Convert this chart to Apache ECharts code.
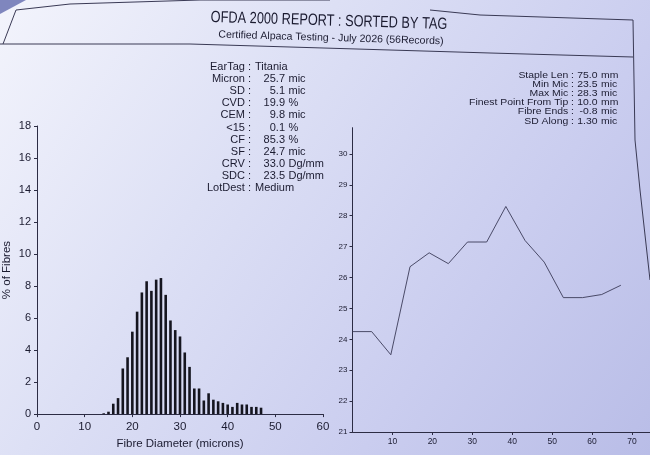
<!DOCTYPE html>
<html><head><meta charset="utf-8">
<script src="https://cdn.jsdelivr.net/npm/echarts@6/dist/echarts.min.js"></script>
<style>html,body{margin:0;padding:0;background:#dcdff5;}#c{width:650px;height:455px;}</style>
</head><body><div id="c"></div>
<script>
// ---- Data ----
const titleText = 'OFDA 2000 REPORT : SORTED BY TAG';
const subtitleText = 'Certified Alpaca Testing - July 2026 (56Records)';

// Histogram: fibre diameter (microns) vs % of fibres
const diameters = [14,15,16,17,18,19,20,21,22,23,24,25,26,27,28,29,30,31,32,33,34,35,36,37,38,39,40,41,42,43,44,45,46,47];
const percents  = [0.05,0.15,0.65,1.0,2.85,3.55,5.15,6.4,7.6,8.3,7.7,8.4,8.5,7.45,5.85,5.25,4.85,3.85,2.95,1.6,1.6,0.85,1.3,0.9,0.8,0.7,0.6,0.45,0.7,0.6,0.6,0.45,0.45,0.4];

// Profile along staple: position (mm) vs micron
const positions = [0,4.8,9.6,14.4,19.2,24,28.8,33.6,38.4,43.2,48,52.8,57.6,62.4,67.2];
const profileMic = [24.25,24.25,23.5,26.35,26.8,26.45,27.15,27.15,28.3,27.2,26.5,25.35,25.35,25.45,25.75];

// Stats blocks
const leftLabels = ['EarTag','Micron','SD','CVD','CEM','<15','CF','SF','CRV','SDC','LotDest'];
const leftValues = ['Titania','25.7','5.1','19.9','9.8','0.1','85.3','24.7','33.0','23.5','Medium'];
const leftUnits  = ['','mic','mic','%','mic','%','%','mic','Dg/mm','Dg/mm',''];

const rightLabels = ['Staple Len','Min Mic','Max Mic','Finest Point From Tip','Fibre Ends','SD Along'];
const rightValues = ['75.0','23.5','28.3','10.0','-0.8','1.30'];
const rightUnits  = ['mm','mic','mic','mm','mic','mic'];

// ---- Styles ----
const FONT = '"Liberation Sans", Arial, sans-serif';
const INK = '#1b1b30';
const AXIS = '#2c2c44';

const graphics = [];
// dark photo corner
graphics.push({type:'polygon', shape:{points:[[0,0],[26,0],[0,14]]}, style:{fill:'#7f86be'}, silent:true});
// header box / page border drawn as plain segments
function addPath(points){
  for (let k = 0; k < points.length - 1; k++) {
    graphics.push({type:'line', silent:true,
      shape:{x1:points[k][0], y1:points[k][1], x2:points[k+1][0], y2:points[k+1][1]},
      style:{stroke:'#3a3a55', lineWidth:1}});
  }
}
addPath([[3,44],[16,10],[70,4],[200,0],[330,0]]);
addPath([[430,10],[480,15],[633,20]]);
addPath([[0,44],[190,44],[490,53],[633,57]]);
addPath([[633,20],[635,140],[640,190],[650,280]]);

// titles
graphics.push({type:'text', x:329, y:21, rotation:-0.03, scaleX:0.85, scaleY:1.08,
  style:{text:titleText, font:'15px '+FONT, fill:INK, align:'center', verticalAlign:'middle'}});
graphics.push({type:'text', x:331, y:38, rotation:-0.03,
  style:{text:subtitleText, font:'10.5px '+FONT, fill:INK, align:'center', verticalAlign:'middle'}});

// left stats
leftLabels.forEach((lab,i)=>{
  const y = 66.7 + i*12.16;
  graphics.push({type:'text', x:251, y:y, style:{text:lab+' :', font:'11px '+FONT, fill:INK, align:'right', verticalAlign:'middle'}});
  const v = leftValues[i];
  if (leftUnits[i] === '') {
    graphics.push({type:'text', x:255, y:y, style:{text:v, font:'11px '+FONT, fill:INK, align:'left', verticalAlign:'middle'}});
  } else {
    graphics.push({type:'text', x:285, y:y, style:{text:v, font:'11px '+FONT, fill:INK, align:'right', verticalAlign:'middle'}});
    graphics.push({type:'text', x:288.5, y:y, style:{text:leftUnits[i], font:'11px '+FONT, fill:INK, align:'left', verticalAlign:'middle'}});
  }
});
// right stats
const RF = '9.3px '+FONT;
rightLabels.forEach((lab,i)=>{
  const y = 75 + i*9.2;
  graphics.push({type:'text', x:574, y:y, scaleX:1.12, style:{text:lab+' :', font:RF, fill:INK, align:'right', verticalAlign:'middle'}});
  graphics.push({type:'text', x:597.5, y:y, scaleX:1.12, style:{text:rightValues[i], font:RF, fill:INK, align:'right', verticalAlign:'middle'}});
  graphics.push({type:'text', x:601, y:y, scaleX:1.12, style:{text:rightUnits[i], font:RF, fill:INK, align:'left', verticalAlign:'middle'}});
});

const chart = echarts.init(document.getElementById('c'), null, {renderer:'canvas'});
chart.setOption({
  animation:false,
  backgroundColor:{type:'linear', x:0, y:0, x2:1, y2:1, colorStops:[
    {offset:0, color:'#f3f4fc'},{offset:0.35, color:'#dde0f5'},{offset:0.7, color:'#cacdef'},{offset:1, color:'#b9bde7'}]},
  textStyle:{fontFamily:FONT},
  grid:[
    {left:36, top:126, width:287, height:291},
    {left:352.5, top:127.7, width:298, height:304.3}
  ],
  xAxis:[
    {gridIndex:0, type:'value', min:0, max:60, interval:10,
     axisLine:{lineStyle:{color:AXIS, width:1}},
     axisTick:{inside:false, length:3, lineStyle:{color:AXIS}},
     axisLabel:{color:INK, fontSize:11.5, margin:7, fontFamily:FONT},
     splitLine:{show:false},
     name:'Fibre Diameter (microns)', nameLocation:'middle', nameGap:20,
     nameTextStyle:{color:INK, fontSize:11.5, fontFamily:FONT}},
    {gridIndex:1, type:'value', min:0, max:74.5, interval:10,
     axisLine:{lineStyle:{color:AXIS, width:1}},
     axisTick:{inside:false, length:3, lineStyle:{color:AXIS}},
     axisLabel:{color:INK, fontSize:8.5, margin:5, fontFamily:FONT, showMinLabel:false, showMaxLabel:false},
     splitLine:{show:false}}
  ],
  yAxis:[
    {gridIndex:0, type:'value', min:0, max:18, interval:2,
     axisLine:{show:true, lineStyle:{color:AXIS, width:1}},
     axisTick:{show:true, inside:false, length:3, lineStyle:{color:AXIS}},
     axisLabel:{color:INK, fontSize:11, margin:6, fontFamily:FONT},
     splitLine:{show:false},
     name:'% of Fibres', nameLocation:'middle', nameRotate:90, nameGap:24,
     nameTextStyle:{color:INK, fontSize:11.5, fontFamily:FONT}},
    {gridIndex:1, type:'value', min:21, max:30.85, interval:1,
     axisLine:{show:true, lineStyle:{color:AXIS, width:1}},
     axisTick:{show:true, inside:false, length:3, lineStyle:{color:AXIS}},
     axisLabel:{color:INK, fontSize:8, margin:5, fontFamily:FONT, showMaxLabel:false},
     splitLine:{show:false}}
  ],
  series:[
    {type:'bar', xAxisIndex:0, yAxisIndex:0, barWidth:2.6,
     itemStyle:{color:'#15151f'},
     data: diameters.map((d,i)=>[d, percents[i]])},
    {type:'line', xAxisIndex:1, yAxisIndex:1, symbol:'none',
     lineStyle:{color:'#3b3b58', width:0.9},
     data: positions.map((p,i)=>[p, profileMic[i]])}
  ],
  graphic: graphics
});
</script></body></html>
